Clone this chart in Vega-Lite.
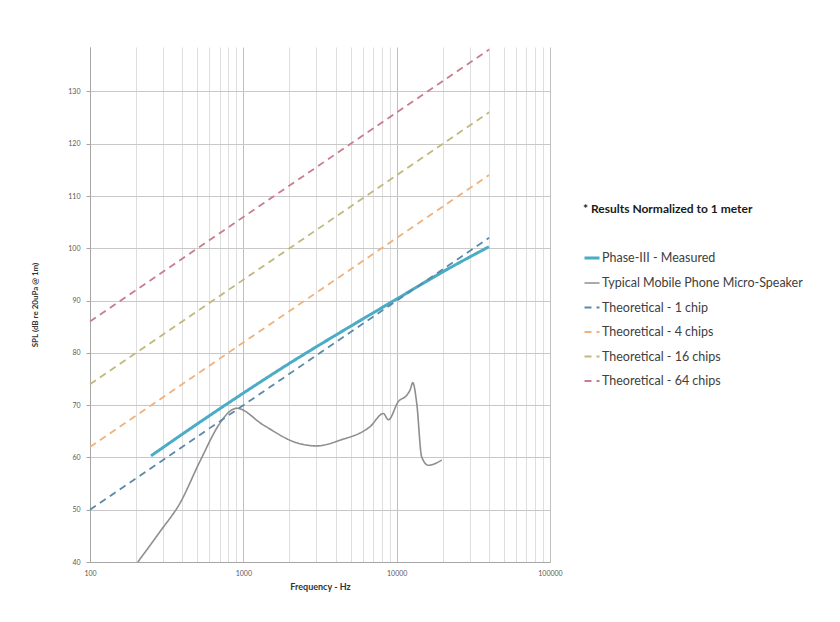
{
  "$schema": "https://vega.github.io/schema/vega-lite/v6.json",
  "width": 460,
  "height": 515,
  "autosize": {"type": "none"},
  "padding": {"left": 90, "top": 47, "right": 290, "bottom": 60},
  "background": "white",
  "config": {"view": {"stroke": null}, "font": "Lato"},
  "data": {
    "values": [
      {"f": 250, "spl": 60.3, "series": "Phase-III - Measured"},
      {"f": 500, "spl": 66.4, "series": "Phase-III - Measured"},
      {"f": 1000, "spl": 72.3, "series": "Phase-III - Measured"},
      {"f": 2000, "spl": 78.0, "series": "Phase-III - Measured"},
      {"f": 4280, "spl": 83.9, "series": "Phase-III - Measured"},
      {"f": 10000, "spl": 90.3, "series": "Phase-III - Measured"},
      {"f": 20000, "spl": 95.5, "series": "Phase-III - Measured"},
      {"f": 40000, "spl": 100.3, "series": "Phase-III - Measured"},
      {"f": 205, "spl": 40.0, "series": "Typical Mobile Phone Micro-Speaker"},
      {"f": 286, "spl": 45.8, "series": "Typical Mobile Phone Micro-Speaker"},
      {"f": 387, "spl": 51.3, "series": "Typical Mobile Phone Micro-Speaker"},
      {"f": 522, "spl": 59.3, "series": "Typical Mobile Phone Micro-Speaker"},
      {"f": 705, "spl": 66.6, "series": "Typical Mobile Phone Micro-Speaker"},
      {"f": 800, "spl": 68.6, "series": "Typical Mobile Phone Micro-Speaker"},
      {"f": 906, "spl": 69.4, "series": "Typical Mobile Phone Micro-Speaker"},
      {"f": 1350, "spl": 66.2, "series": "Typical Mobile Phone Micro-Speaker"},
      {"f": 2230, "spl": 62.8, "series": "Typical Mobile Phone Micro-Speaker"},
      {"f": 3005, "spl": 62.2, "series": "Typical Mobile Phone Micro-Speaker"},
      {"f": 4276, "spl": 63.3, "series": "Typical Mobile Phone Micro-Speaker"},
      {"f": 6715, "spl": 65.9, "series": "Typical Mobile Phone Micro-Speaker"},
      {"f": 8190, "spl": 68.4, "series": "Typical Mobile Phone Micro-Speaker"},
      {"f": 8830, "spl": 67.2, "series": "Typical Mobile Phone Micro-Speaker"},
      {"f": 10260, "spl": 70.7, "series": "Typical Mobile Phone Micro-Speaker"},
      {"f": 11640, "spl": 71.9, "series": "Typical Mobile Phone Micro-Speaker"},
      {"f": 12230, "spl": 72.9, "series": "Typical Mobile Phone Micro-Speaker"},
      {"f": 12740, "spl": 74.3, "series": "Typical Mobile Phone Micro-Speaker"},
      {"f": 13520, "spl": 70.3, "series": "Typical Mobile Phone Micro-Speaker"},
      {"f": 14560, "spl": 60.1, "series": "Typical Mobile Phone Micro-Speaker"},
      {"f": 16100, "spl": 58.5, "series": "Typical Mobile Phone Micro-Speaker"},
      {"f": 19690, "spl": 59.5, "series": "Typical Mobile Phone Micro-Speaker"},
      {"f": 100, "spl": 50, "series": "Theoretical - 1 chip"},
      {"f": 40000, "spl": 102, "series": "Theoretical - 1 chip"},
      {"f": 100, "spl": 62, "series": "Theoretical - 4 chips"},
      {"f": 40000, "spl": 114, "series": "Theoretical - 4 chips"},
      {"f": 100, "spl": 74, "series": "Theoretical - 16 chips"},
      {"f": 40000, "spl": 126, "series": "Theoretical - 16 chips"},
      {"f": 100, "spl": 86, "series": "Theoretical - 64 chips"},
      {"f": 40000, "spl": 138, "series": "Theoretical - 64 chips"}
    ]
  },
  "mark": {"type": "line", "interpolate": "monotone", "clip": false},
  "encoding": {
    "x": {
      "field": "f",
      "type": "quantitative",
      "scale": {"type": "log", "domain": [100, 100000], "nice": false},
      "axis": {
        "title": "Frequency - Hz",
        "titleFontSize": 9,
        "titleFontWeight": "bold",
        "titleColor": "#333333",
        "titlePadding": 6,
        "values": [100, 200, 300, 400, 500, 600, 700, 800, 900, 1000, 2000, 3000, 4000, 5000, 6000, 7000, 8000, 9000, 10000, 20000, 30000, 40000, 50000, 60000, 70000, 80000, 90000, 100000],
        "labelExpr": "indexof([100, 1000, 10000, 100000], datum.value) >= 0 ? '' + datum.value : ''",
        "labelFontSize": 7,
        "labelColor": "#595959",
        "labelPadding": 7,
        "labelOverlap": false,
        "labelBound": false,
        "labelFlush": false,
        "ticks": false,
        "domainColor": "#a6a6a6",
        "gridColor": {"condition": {"test": "indexof([100, 1000, 10000, 100000], datum.value) >= 0", "value": "#bfbfbf"}, "value": "#dedede"},
        "gridWidth": 1
      }
    },
    "y": {
      "field": "spl",
      "type": "quantitative",
      "scale": {"domain": [40, 138.5], "nice": false, "zero": false},
      "axis": {
        "title": "SPL (dB re 20uPa @ 1m)",
        "titleFontSize": 8,
        "titleFontWeight": "bold",
        "titleColor": "#333333",
        "titlePadding": 28,
        "values": [40, 50, 60, 70, 80, 90, 100, 110, 120, 130],
        "labelFontSize": 7,
        "labelColor": "#595959",
        "labelPadding": 6,
        "tickSize": 4,
        "tickColor": "#a6a6a6",
        "domainColor": "#a6a6a6",
        "gridColor": "#c8c8c8"
      }
    },
    "color": {
      "field": "series",
      "type": "nominal",
      "scale": {
        "domain": ["Phase-III - Measured", "Typical Mobile Phone Micro-Speaker", "Theoretical - 1 chip", "Theoretical - 4 chips", "Theoretical - 16 chips", "Theoretical - 64 chips"],
        "range": ["#4bacc6", "#8e8e8e", "#5a8aa8", "#efb27c", "#c0b87c", "#c97d8c"]
      },
      "legend": {
        "orient": "none",
        "legendX": 493,
        "legendY": 157,
        "title": "* Results Normalized to 1 meter",
        "titleFontSize": 12,
        "titleFontWeight": "bold",
        "titleColor": "#1a1a1a",
        "titlePadding": 33,
        "labelFontSize": 12.5,
        "labelColor": "#404040",
        "labelLimit": 500,
        "labelOffset": 1,
        "symbolType": "stroke",
        "symbolSize": 225,
        "rowPadding": 9.5
      }
    },
    "strokeDash": {
      "field": "series",
      "type": "nominal",
      "scale": {
        "domain": ["Phase-III - Measured", "Typical Mobile Phone Micro-Speaker", "Theoretical - 1 chip", "Theoretical - 4 chips", "Theoretical - 16 chips", "Theoretical - 64 chips"],
        "range": [[1, 0], [1, 0], [7, 5], [7, 5], [7, 5], [7, 5]]
      }
    },
    "strokeWidth": {
      "field": "series",
      "type": "nominal",
      "scale": {
        "type": "ordinal",
        "domain": ["Phase-III - Measured", "Typical Mobile Phone Micro-Speaker", "Theoretical - 1 chip", "Theoretical - 4 chips", "Theoretical - 16 chips", "Theoretical - 64 chips"],
        "range": [3, 1.6, 1.8, 1.8, 1.8, 1.8]
      }
    }
  }
}
